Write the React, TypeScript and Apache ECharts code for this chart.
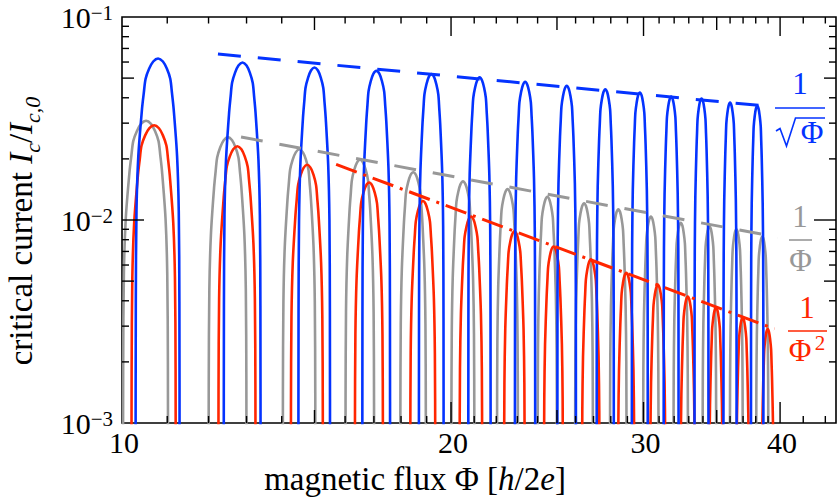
import React, { useEffect, useRef } from 'react';
import * as echarts from 'echarts';

const SERIF = '"Liberation Serif", "Times New Roman", Times, serif';
const BLUE = '#0433ff';
const RED = '#ff2600';
const GRAY = '#989898';

// ---- axes ----
const X_MIN = 10;
const X_MAX = 45;
const Y_MIN = 0.001;
const Y_MAX = 0.1;
const X_TICK_LABELS = [10, 20, 30, 40];
const X_TICKS_LONG = [20, 30, 40];
const X_TICKS_MEDIUM = [15, 25, 35];
const X_TICKS_SHORT = [11, 12, 13, 14, 16, 17, 18, 19, 21, 22, 23, 24, 26, 27, 28, 29, 31, 32, 33, 34, 36, 37, 38, 39, 42, 44];
const Y_TICKS_LONG = [0.01];
const Y_TICKS_MEDIUM = [0.005, 0.05];
const Y_TICKS_SHORT = [0.002, 0.003, 0.004, 0.006, 0.007, 0.008, 0.009, 0.02, 0.03, 0.04, 0.06, 0.07, 0.08, 0.09];

// ---- arch peaks (flux Φ, critical current) ----
const BLUE_PEAK_PHI = [10.79, 12.89, 15.0, 17.09, 19.19, 21.24, 23.38, 25.52, 27.68, 29.77, 31.8, 33.9, 36.0, 38.12];
const BLUE_PEAK_VAL = [0.0625, 0.0597, 0.0564, 0.0543, 0.0523, 0.0504, 0.0479, 0.0458, 0.0441, 0.0425, 0.0406, 0.0397, 0.0379, 0.0365];

const GRAY_PEAK_PHI = [10.52, 12.5, 14.53, 16.51, 18.47, 20.51, 22.53, 24.5, 26.47, 28.45, 30.47, 32.45, 34.47, 36.48, 38.53];
const GRAY_PEAK_VAL = [0.0308, 0.0256, 0.0223, 0.0198, 0.0172, 0.0155, 0.0142, 0.013, 0.0121, 0.0113, 0.0104, 0.0097, 0.0093, 0.009, 0.0083];

const RED_PEAK_PHI = [10.7, 12.75, 14.77, 16.83, 18.85, 20.86, 22.86, 24.82, 26.85, 28.93, 30.92, 32.93, 34.95, 36.97, 38.97];
const RED_PEAK_VAL = [0.0293, 0.0231, 0.0187, 0.0153, 0.0124, 0.0104, 0.0088, 0.0074, 0.0064, 0.0055, 0.0048, 0.0042, 0.0037, 0.0033, 0.0029];

// arch outline read from the first arches: half-width in Φ at a depth (decades) below the peak
const ARCH_DEPTH = [0, 0.015, 0.05, 0.1, 0.17, 0.25, 0.48, 0.75, 1.2, 2.2];
const ARCH_HALF_WIDTH = [0, 0.11, 0.2, 0.28, 0.32, 0.36, 0.44, 0.48, 0.495, 0.5];

// ---- guide lines (end points) ----
const GUIDE_BLUE_PHI = [12.24, 38.66];
const GUIDE_BLUE_VAL = [0.0657, 0.0365];
const GUIDE_GRAY_PHI = [12.85, 39.81];
const GUIDE_GRAY_VAL = [0.02563, 0.00823];
const GUIDE_RED_PHI = [15.7, 39.53];
const GUIDE_RED_VAL = [0.0188, 0.00291];

function archData(phi: number, val: number): number[][] {
  const pts: number[][] = [];
  for (let i = ARCH_DEPTH.length - 1; i > 0; i--) {
    pts.push([phi - ARCH_HALF_WIDTH[i], val / Math.pow(10, ARCH_DEPTH[i])]);
  }
  pts.push([phi, val]);
  for (let i = 1; i < ARCH_DEPTH.length; i++) {
    pts.push([phi + ARCH_HALF_WIDTH[i], val / Math.pow(10, ARCH_DEPTH[i])]);
  }
  return pts;
}

function archSeries(phis: number[], vals: number[], color: string, z: number) {
  return phis.map((p, i) => ({
    type: 'line',
    data: archData(p, vals[i]),
    smooth: 0.3,
    symbol: 'none',
    showSymbol: false,
    silent: true,
    clip: true,
    z,
    lineStyle: { color, width: 2.6 },
  }));
}

function guideSeries(phis: number[], vals: number[], color: string, dash: number[]) {
  return {
    type: 'line',
    data: phis.map((p, i) => [p, vals[i]]),
    symbol: 'none',
    showSymbol: false,
    silent: true,
    z: 5,
    lineStyle: { color, width: 3, type: dash },
  };
}

function text(x: number, y: number, str: string, size: number, color: string, extra: any = {}) {
  return {
    type: 'text',
    x,
    y,
    silent: true,
    z: 20,
    ...extra,
    style: {
      text: str,
      fontSize: size,
      fontFamily: SERIF,
      fill: color,
      align: 'center',
      verticalAlign: 'middle',
      ...(extra.style || {}),
    },
  };
}

function seg(x1: number, y1: number, x2: number, y2: number, color = '#000', w = 1.4) {
  return {
    type: 'line',
    silent: true,
    z: 20,
    shape: { x1, y1, x2, y2 },
    style: { stroke: color, lineWidth: w },
  };
}

export default function App() {
  const ref = useRef<HTMLDivElement>(null);

  useEffect(() => {
    if (!ref.current) return;
    const chart = echarts.init(ref.current, undefined, { renderer: 'svg' });

    const option: any = {
      animation: false,
      backgroundColor: '#ffffff',
      grid: {
        left: 122,
        right: 1,
        top: 17,
        bottom: 77,
        show: true,
        borderColor: '#000',
        borderWidth: 1.6,
        backgroundColor: 'transparent',
        containLabel: false,
        outerBoundsMode: 'none',
      },
      xAxis: {
        type: 'log',
        logBase: 10,
        min: X_MIN,
        max: X_MAX,
        axisLine: { show: false },
        axisTick: { show: false },
        axisLabel: { show: false },
        splitLine: { show: false },
      },
      yAxis: {
        type: 'log',
        logBase: 10,
        min: Y_MIN,
        max: Y_MAX,
        axisLine: { show: false },
        axisTick: { show: false },
        splitLine: { show: false },
        axisLabel: {
          margin: 9,
          formatter: (v: number) => `{b|10}{s|−${-Math.round(Math.log10(v))}}`,
          rich: {
            b: { fontSize: 30, fontFamily: SERIF, color: '#000', lineHeight: 30, padding: [6, 0, 6, 0] },
            s: { fontSize: 21, fontFamily: SERIF, color: '#000', lineHeight: 21, verticalAlign: 'top' },
          },
        },
      },
      series: [
        ...archSeries(GRAY_PEAK_PHI, GRAY_PEAK_VAL, GRAY, 2),
        ...archSeries(RED_PEAK_PHI, RED_PEAK_VAL, RED, 3),
        ...archSeries(BLUE_PEAK_PHI, BLUE_PEAK_VAL, BLUE, 4),
        guideSeries(GUIDE_GRAY_PHI, GUIDE_GRAY_VAL, GRAY, [22, 17]),
        guideSeries(GUIDE_RED_PHI, GUIDE_RED_VAL, RED, [22, 7, 3, 7]),
        guideSeries(GUIDE_BLUE_PHI, GUIDE_BLUE_VAL, BLUE, [23, 17]),
      ],
    };
    chart.setOption(option);

    const toPx = (phi: number, v: number) => chart.convertToPixel({ gridIndex: 0 } as any, [phi, v]) as number[];
    const [xL, yT] = toPx(X_MIN, Y_MAX);
    const [xR, yB] = toPx(X_MAX, Y_MIN);

    const els: any[] = [];
    const xTick = (list: number[], lenTop: number, lenBottom: number) => {
      list.forEach((p) => {
        const x = toPx(p, Y_MIN)[0];
        els.push(seg(x, yT, x, yT + lenTop));
        els.push(seg(x, yB, x, yB - lenBottom));
      });
    };
    xTick(X_TICKS_LONG, 19, 21);
    xTick(X_TICKS_MEDIUM, 13, 13);
    xTick(X_TICKS_SHORT, 6.5, 7);

    const yTick = (list: number[], len: number) => {
      list.forEach((v) => {
        const y = toPx(X_MIN, v)[1];
        els.push(seg(xL, y, xL + len, y));
        els.push(seg(xR, y, xR - len, y));
      });
    };
    yTick(Y_TICKS_LONG, 22);
    yTick(Y_TICKS_MEDIUM, 12);
    yTick(Y_TICKS_SHORT, 7);

    X_TICK_LABELS.forEach((p) => {
      const x = toPx(p, Y_MIN)[0];
      els.push(text(x + 2, yB + 19, String(p), 30, '#000'));
    });

    // axis titles
    els.push(
      text(415, 479, '{t|magnetic flux Φ [}{i|h}{t|/2}{i|e}{t|]}', 33, '#000', {
        style: {
          lineHeight: 36,
          rich: {
            t: { fontSize: 33, fontFamily: SERIF, lineHeight: 36, fill: '#000' },
            i: { fontSize: 33, fontFamily: SERIF, fontStyle: 'italic', lineHeight: 36, fill: '#000' },
          },
        },
      })
    );
    els.push(
      text(21, 231, '{t|critical current }{i|I}{sub|c}{t|/}{i|I}{sub|c,0}', 33, '#000', {
        rotation: Math.PI / 2,
        style: {
          lineHeight: 34,
          rich: {
            t: { fontSize: 33, fontFamily: SERIF, lineHeight: 34, fill: '#000' },
            i: { fontSize: 33, fontFamily: SERIF, fontStyle: 'italic', lineHeight: 34, fill: '#000' },
            sub: { fontSize: 22, fontFamily: SERIF, fontStyle: 'italic', lineHeight: 22, verticalAlign: 'top', padding: [17, 0, 0, 0], fill: '#000' },
          },
        },
      })
    );

    // guide labels: 1/sqrt(Φ)
    els.push(text(800, 83, '1', 31, BLUE));
    els.push(seg(775, 108, 825, 108, BLUE, 1.6));
    els.push({
      type: 'polyline',
      silent: true,
      z: 20,
      shape: { points: [[776, 131], [780, 128.5], [786.5, 146], [795.5, 118], [825, 118]] },
      style: { stroke: BLUE, lineWidth: 1.6, fill: 'none' },
    });
    els.push(text(812, 132, 'Φ', 31, BLUE));

    // 1/Φ
    els.push(text(800, 216, '1', 31, GRAY));
    els.push(seg(789, 240, 812, 240, GRAY, 1.6));
    els.push(text(800.5, 260, 'Φ', 31, GRAY));

    // 1/Φ²
    els.push(text(807, 307, '1', 31, RED));
    els.push(seg(788, 331, 827, 331, RED, 1.6));
    els.push(text(800, 350, 'Φ', 31, RED));
    els.push(text(820, 343, '2', 21, RED));

    chart.setOption({ graphic: els });

    return () => chart.dispose();
  }, []);

  return <div ref={ref} style={{ position: 'fixed', left: 0, top: 0, width: 837, height: 500 }} />;
}
